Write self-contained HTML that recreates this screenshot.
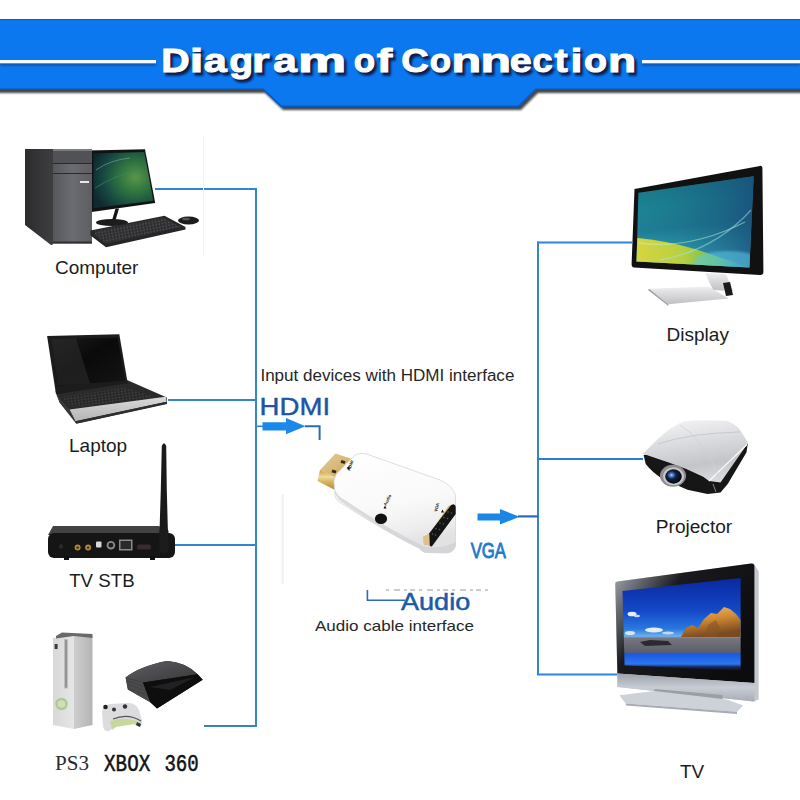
<!DOCTYPE html>
<html><head><meta charset="utf-8">
<style>
html,body{margin:0;padding:0;background:#fff;width:800px;height:800px;overflow:hidden}
svg{display:block}
text{font-family:"Liberation Sans",sans-serif}
</style></head>
<body>
<svg width="800" height="800" viewBox="0 0 800 800">
<defs>
  <filter id="blur1" x="-10%" y="-50%" width="120%" height="200%"><feGaussianBlur stdDeviation="1.2"/></filter>
  <filter id="blur2" x="-10%" y="-50%" width="120%" height="200%"><feGaussianBlur stdDeviation="0.8"/></filter>
</defs>
<rect width="800" height="800" fill="#fff"/>

<!-- ===== BANNER ===== -->
<g id="banner">
  <polygon points="-5,21 805,21 805,93 538,93 521,110 283,110 265,93 -5,93" fill="#333" filter="url(#blur1)" opacity="0.9"/>
  <polygon points="0,19 800,19 800,90 536,90 519,107 281,107 263,90 0,90" fill="#0c78f0"/>
  <polyline points="0,89.3 263.3,89.3 281.3,106.3 518.7,106.3 535.7,89.3 800,89.3" fill="none" stroke="#0a58b8" stroke-width="1.4"/>
  <rect x="0" y="19" width="800" height="1.2" fill="#0a5fc4"/>
  <rect x="0" y="63" width="156" height="2.5" fill="#0a4fa8" filter="url(#blur2)"/>
  <rect x="642" y="63" width="158" height="2.5" fill="#0a4fa8" filter="url(#blur2)"/>
  <rect x="0" y="60" width="156" height="3.3" fill="#f4fbff"/>
  <rect x="642" y="60" width="158" height="3.3" fill="#f4fbff"/>
  <g font-weight="bold" font-size="34" fill="#0a1e4a" stroke="#0a1e4a" stroke-width="1.4" filter="url(#blur2)">
    <text transform="translate(163.79,74.5) scale(1.158,1)">D</text>
    <text transform="translate(192.24,74.5) scale(1.437,1)">i</text>
    <text transform="translate(206.26,74.5) scale(1.216,1)">a</text>
    <text transform="translate(231.82,74.5) scale(1.150,1)">g</text>
    <text transform="translate(254.59,74.5) scale(1.325,1)">r</text>
    <text transform="translate(275.66,74.5) scale(1.247,1)">a</text>
    <text transform="translate(300.60,74.5) scale(1.597,1)">m</text>
    <text transform="translate(356.36,74.5) scale(1.030,1)">o</text>
    <text transform="translate(379.20,74.5) scale(1.362,1)">f</text>
    <text transform="translate(403.84,74.5) scale(1.116,1)">C</text>
    <text transform="translate(432.16,74.5) scale(1.030,1)">o</text>
    <text transform="translate(454.04,74.5) scale(1.432,1)">n</text>
    <text transform="translate(482.88,74.5) scale(1.471,1)">n</text>
    <text transform="translate(512.18,74.5) scale(1.165,1)">e</text>
    <text transform="translate(534.94,74.5) scale(1.061,1)">c</text>
    <text transform="translate(556.95,74.5) scale(1.158,1)">t</text>
    <text transform="translate(572.92,74.5) scale(1.261,1)">i</text>
    <text transform="translate(586.51,74.5) scale(1.111,1)">o</text>
    <text transform="translate(610.54,74.5) scale(1.360,1)">n</text>
  </g>
  <g font-weight="bold" font-size="34" fill="#fff" stroke="#fff" stroke-width="1">
    <text transform="translate(161.29,72) scale(1.158,1)">D</text>
    <text transform="translate(189.74,72) scale(1.437,1)">i</text>
    <text transform="translate(203.76,72) scale(1.216,1)">a</text>
    <text transform="translate(229.32,72) scale(1.150,1)">g</text>
    <text transform="translate(252.09,72) scale(1.325,1)">r</text>
    <text transform="translate(273.16,72) scale(1.247,1)">a</text>
    <text transform="translate(298.10,72) scale(1.597,1)">m</text>
    <text transform="translate(353.86,72) scale(1.030,1)">o</text>
    <text transform="translate(376.70,72) scale(1.362,1)">f</text>
    <text transform="translate(401.34,72) scale(1.116,1)">C</text>
    <text transform="translate(429.66,72) scale(1.030,1)">o</text>
    <text transform="translate(451.54,72) scale(1.432,1)">n</text>
    <text transform="translate(480.38,72) scale(1.471,1)">n</text>
    <text transform="translate(509.68,72) scale(1.165,1)">e</text>
    <text transform="translate(532.44,72) scale(1.061,1)">c</text>
    <text transform="translate(554.45,72) scale(1.158,1)">t</text>
    <text transform="translate(570.42,72) scale(1.261,1)">i</text>
    <text transform="translate(584.01,72) scale(1.111,1)">o</text>
    <text transform="translate(608.04,72) scale(1.360,1)">n</text>
  </g>
</g>

<!-- ===== CONNECTION LINES ===== -->
<g id="lines" fill="#3486c4">
  <!-- left bus -->
  <rect x="255" y="188" width="2" height="539"/>
  <rect x="155" y="188" width="102" height="2" fill="#2f86d2"/>
  <rect x="168" y="399" width="89" height="2" fill="#2f86d2"/>
  <rect x="175" y="544" width="82" height="2" fill="#2f86d2"/>
  <rect x="204" y="725" width="53" height="2" fill="#3384c0"/>
  <!-- right bus -->
  <rect x="537" y="241.5" width="2" height="433.5"/>
  <rect x="537" y="241.5" width="95" height="2" fill="#2f86d2"/>
  <rect x="537" y="458" width="106" height="2" fill="#2a7ed0"/>
  <rect x="537" y="673.5" width="80" height="2" fill="#2f86d2"/>
</g>

<rect x="203" y="137" width="1" height="118" fill="#f3f3f3"/>
<rect x="281.5" y="494" width="2.5" height="90" fill="#f2f2f2"/>
<!-- ===== COMPUTER ===== -->
<g id="computer">
  <defs>
    <linearGradient id="twrFront" x1="0" y1="0" x2="1" y2="0">
      <stop offset="0" stop-color="#56585c"/><stop offset="0.5" stop-color="#6a6c71"/><stop offset="1" stop-color="#5c5e62"/>
    </linearGradient>
    <linearGradient id="twrSide" x1="0" y1="0" x2="1" y2="0">
      <stop offset="0" stop-color="#2c2c2e"/><stop offset="1" stop-color="#3e3e41"/>
    </linearGradient>
    <radialGradient id="pcScreen" cx="0.7" cy="0.45" r="0.75">
      <stop offset="0" stop-color="#5a9448"/><stop offset="0.35" stop-color="#307540"/><stop offset="0.7" stop-color="#184a42"/><stop offset="1" stop-color="#0e2a30"/>
    </radialGradient>
  </defs>
  <!-- monitor -->
  <polygon points="88,150.6 145,149.3 155.2,203 88,212.6" fill="#121212"/>
  <polygon points="93.5,153.5 144.3,152 153.3,200.8 93.5,208.3" fill="url(#pcScreen)"/>
  <path d="M96,170 Q110,160 130,158" stroke="#7aa8a0" stroke-width="1" fill="none" opacity="0.6"/>
  <path d="M95,188 Q115,175 140,170" stroke="#3f8a6a" stroke-width="1.2" fill="none" opacity="0.5"/>
  <polygon points="115.5,208.5 119,208.5 115,222 111.5,222" fill="#151515"/>
  <ellipse cx="112" cy="222.5" rx="16" ry="3.6" fill="#1c1c1c"/>
  <!-- tower -->
  <polygon points="25,149 53,149 53,244.5 51,245 25,225" fill="url(#twrSide)"/>
  <rect x="53" y="149" width="39" height="94.5" fill="url(#twrFront)"/>
  <rect x="53" y="149" width="39" height="2" fill="#7a7c80"/>
  <rect x="53" y="151" width="39" height="12" fill="#505256"/>
  <rect x="53" y="163" width="39" height="1" fill="#2a2a2c"/>
  <rect x="53" y="173" width="39" height="1" fill="#2a2a2c"/>
  <rect x="53" y="241.5" width="39" height="2" fill="#303032"/>
  <rect x="80" y="181" width="9" height="2" fill="#e8e8e8"/>
  <!-- keyboard -->
  <defs>
    <pattern id="keys" width="3.2" height="3" patternUnits="userSpaceOnUse" patternTransform="rotate(-11)">
      <rect width="3.2" height="3" fill="#222224"/><rect x="0.4" y="0.4" width="2.3" height="2.1" fill="#4a4a4e"/>
    </pattern>
  </defs>
  <polygon points="90.5,230.4 164.5,215.8 185.5,227 185.5,229.5 106,247.3 90.5,235.5" fill="#262628"/>
  <polygon points="95,231 163,217.5 181,227 106,243.5 95,235" fill="url(#keys)"/>
  <ellipse cx="188.5" cy="220.5" rx="10.5" ry="4" fill="#1c1c1e"/>
  <ellipse cx="186" cy="219" rx="4" ry="1.3" fill="#555"/>
</g>

<!-- ===== LAPTOP ===== -->
<g id="laptop">
  <defs>
    <linearGradient id="lapScr" x1="0" y1="0" x2="1" y2="1">
      <stop offset="0" stop-color="#1c1c1c"/><stop offset="0.45" stop-color="#0a0a0a"/><stop offset="1" stop-color="#141414"/>
    </linearGradient>
    <linearGradient id="palm" x1="0" y1="0" x2="0" y2="1">
      <stop offset="0" stop-color="#dadada"/><stop offset="1" stop-color="#b4b4b4"/>
    </linearGradient>
  </defs>
  <polygon points="55.5,391 127,380 166.8,397.4 167,404 76.3,423.8 59.5,402.5" fill="#2a2a2a"/>
  <polygon points="47.1,336 119.3,334.3 127.7,383.2 56,394.2" fill="#1c1c1c"/>
  <polygon points="51,338.5 117.6,337.7 125.2,380.7 57.7,385.8" fill="url(#lapScr)"/>
  <polygon points="51.5,339 76,338.3 90,383.5 57.8,385.6" fill="#2a2a2a" opacity="0.65"/>
  <defs>
    <pattern id="lkeys" width="3.4" height="2.8" patternUnits="userSpaceOnUse" patternTransform="rotate(-8)">
      <rect width="3.4" height="2.8" fill="#1e1e1e"/><rect x="0.4" y="0.4" width="2.5" height="1.9" fill="#3e3e40"/>
    </pattern>
  </defs>
  <polygon points="61,397.2 126,387.6 159,398.3 71.5,406.8" fill="url(#lkeys)"/>
  <polygon points="69.5,409.4 165.7,396.7 166.6,401.8 75.4,421.2" fill="url(#palm)"/>
  <polygon points="75.4,421.2 166.6,401.8 166.6,403.8 76.5,423.5" fill="#2e2e2e"/>
  <polygon points="56,394.2 69.5,409.4 75.4,421.2 60,402" fill="#3a3a3a"/>
</g>

<!-- ===== TV STB ===== -->
<g id="stb">
  <polygon points="53,526 159,526 170,535 48,535" fill="#424244"/>
  <rect x="48" y="533" width="127" height="25" rx="6" fill="#151515"/>
  <rect x="64" y="556" width="5" height="4" fill="#111"/>
  <rect x="150" y="556" width="5" height="4" fill="#111"/>
  <circle cx="61" cy="546.5" r="2.2" fill="#2a2a2a"/>
  <circle cx="77.6" cy="547.6" r="3" fill="#b08a2a"/><circle cx="77.6" cy="547.6" r="1.2" fill="#2a2a2a"/>
  <circle cx="88.1" cy="547.6" r="3" fill="#b8883a"/><circle cx="88.1" cy="547.6" r="1.2" fill="#2a2a2a"/>
  <rect x="96" y="541.5" width="5.5" height="6" rx="1" fill="#d8d8d8"/>
  <circle cx="110.9" cy="545.2" r="4.3" fill="#8a8a8a"/><circle cx="110.9" cy="545.2" r="2.4" fill="#1a1a1a"/>
  <rect x="119" y="539.5" width="13.5" height="11" fill="#8a8a8a"/>
  <rect x="120.5" y="541" width="10.5" height="8" fill="#2a2a2a"/>
  <rect x="137" y="544.5" width="14" height="5" rx="2" fill="#3a2a2a"/>
  <!-- antenna -->
  <path d="M161.8,446 Q164,440.5 166.2,446 L166.8,490 L168,535 L159.4,535 L160.8,490 Z" fill="#1a1a1a"/>
  <rect x="159.5" y="528" width="9" height="25" rx="4" fill="#1c1c1c"/>
</g>

<!-- ===== XBOX / PS3 ===== -->
<g id="consoles">
  <defs>
    <linearGradient id="xbF" x1="0" y1="0" x2="1" y2="0">
      <stop offset="0" stop-color="#d8d8d8"/><stop offset="1" stop-color="#e6e6e6"/>
    </linearGradient>
    <linearGradient id="xbS" x1="0" y1="0" x2="1" y2="0">
      <stop offset="0" stop-color="#cdcdcd"/><stop offset="0.5" stop-color="#c2c2c2"/><stop offset="1" stop-color="#b4b4b4"/>
    </linearGradient>
    <linearGradient id="psTop" x1="0" y1="0" x2="1" y2="1">
      <stop offset="0" stop-color="#606064"/><stop offset="0.6" stop-color="#47474a"/><stop offset="1" stop-color="#38383a"/>
    </linearGradient>
  </defs>
  <polygon points="53,638 74,635 74,729 53,725" fill="url(#xbF)"/>
  <polygon points="74,635 92.5,637 92.5,725 74,729" fill="url(#xbS)"/>
  <polygon points="56,636 62,632.6 92.5,634 92.5,638 74,636 56,638.5" fill="#6a6a6a"/>
  <rect x="64" y="639" width="4" height="49.5" fill="#bdbdbd"/><rect x="65.2" y="640" width="1.6" height="47.5" fill="#8a8a8a"/>
  <rect x="54.6" y="644" width="3" height="5" fill="#3a3a3a"/>
  <circle cx="61.5" cy="704" r="6.2" fill="#b0c898"/>
  <circle cx="61.5" cy="704" r="3.8" fill="#cfe0b8"/>
  <!-- controller -->
  <path d="M102,712 Q103,705 110,704 L128,703 Q136,703 139,710 L142,720 Q143,726 139,727 L134,724 L116,726 L109,731 Q104,732 103,726 Z" fill="#dcdcde"/>
  <path d="M110,721 Q125,716 140,722 L139,727 L134,724 L116,727 L112,730 Z" fill="#c8d89a"/>
  <path d="M113,719 Q128,713 141,721" stroke="#555" stroke-width="1.3" fill="none"/>
  <circle cx="105.5" cy="707" r="2.3" fill="#222"/>
  <circle cx="114" cy="709.5" r="2" fill="#333"/>
  <circle cx="125" cy="706.5" r="2.2" fill="#333"/>
  <path d="M137,722 L141,724 L140,727 L136,725 Z" fill="#333"/>
  <!-- ps3 -->
  <path d="M125.6,677.6 Q140,666 167,661 Q185,662 197.6,674.2 L202.7,679.8 L157,708.5 L150.4,702.3 L127.9,689.4 Z" fill="#1a1a1a"/>
  <polygon points="125.6,677.6 143,682.6 150.4,702.3 127.9,689.4" fill="#4a4a4d"/>
  <g stroke="#3a3a3c" stroke-width="0.6"><line x1="127" y1="681" x2="145" y2="687"/><line x1="127.5" y1="684.5" x2="146.5" y2="691"/><line x1="128" y1="688" x2="148" y2="695.5"/></g>
  <path d="M125.6,677.6 Q140,666 167,661 Q185,662 197.6,674.2 L143,682.6 Z" fill="url(#psTop)"/>
  <polygon points="143,682.6 197.6,674.2 202.7,679.8 157,708.5 150.4,702.3" fill="#0e0e0e"/>
  <polygon points="150,687 195,677 170,690" fill="#2a2a2a" opacity="0.7"/>
</g>

<!-- ===== DISPLAY ===== -->
<g id="display">
  <defs>
    <linearGradient id="vista" x1="0" y1="0" x2="0.15" y2="1">
      <stop offset="0" stop-color="#1a6f88"/><stop offset="0.35" stop-color="#1c8494"/><stop offset="0.6" stop-color="#1f7e96"/><stop offset="0.8" stop-color="#2ea0b0"/><stop offset="1" stop-color="#48b8d0"/>
    </linearGradient>
    <linearGradient id="vistaR" x1="0" y1="0" x2="1" y2="0">
      <stop offset="0" stop-color="#1a6a80" stop-opacity="0"/><stop offset="1" stop-color="#184a78" stop-opacity="0.8"/>
    </linearGradient>
    <linearGradient id="vistaY" x1="0" y1="0" x2="1" y2="0">
      <stop offset="0" stop-color="#d8d440"/><stop offset="0.4" stop-color="#b8d040"/><stop offset="0.7" stop-color="#70c050"/><stop offset="1" stop-color="#40b0a0" stop-opacity="0"/>
    </linearGradient>
    <linearGradient id="stand" x1="0" y1="0" x2="0" y2="1">
      <stop offset="0" stop-color="#eeeef0"/><stop offset="1" stop-color="#c0c0c4"/>
    </linearGradient>
  </defs>
  <path d="M634.5,188.9 L760,165.9 Q762.4,165.6 762.4,168 L763.4,272 Q763.4,275.1 760,275 L634,267.6 Q631.6,267.4 631.6,264 Z" fill="#111"/>
  <polygon points="638.4,192.8 753.7,176.3 749.4,267.4 636.5,261.6" fill="url(#vista)"/>
  <polygon points="638.4,192.8 753.7,176.3 749.4,267.4 636.5,261.6" fill="url(#vistaR)"/>
  <path d="M637.3,238 Q668,241 695,249 Q722,258 749.4,267.4 L636.5,261.6 Z" fill="url(#vistaY)"/>
  <clipPath id="dispClip"><polygon points="638.4,192.8 753.7,176.3 749.4,267.4 636.5,261.6"/></clipPath>
  <g clip-path="url(#dispClip)"><ellipse cx="728" cy="262" rx="34" ry="11" fill="#5cc8e8" opacity="0.55" filter="url(#blur1)"/></g>
  <path d="M638,243 Q690,250 745,222" stroke="#c8f0d8" stroke-width="1.4" fill="none" opacity="0.5"/>
  <path d="M660,260 Q715,250 751,210" stroke="#a0e8f0" stroke-width="1.3" fill="none" opacity="0.5"/>
  <polygon points="705,273 726,274 733,291 713,290" fill="url(#stand)"/>
  <polygon points="723,283 730,282 733,295 726,296" fill="#1a1a1a"/>
  <polygon points="649,288.7 709,286.8 728.5,298.4 668.4,304.2" fill="url(#stand)"/>
  <polygon points="649,288.7 668.4,304.2 668.4,306 648,290" fill="#a0a0a4"/>
</g>

<!-- ===== PROJECTOR ===== -->
<g id="projector">
  <defs>
    <linearGradient id="projTop" x1="0.2" y1="0" x2="0.45" y2="1">
      <stop offset="0" stop-color="#f4f4f6"/><stop offset="0.4" stop-color="#dadbde"/><stop offset="0.75" stop-color="#c4c5c9"/><stop offset="1" stop-color="#d8d9dc"/>
    </linearGradient>
    <radialGradient id="lensG" cx="0.38" cy="0.4" r="0.62">
      <stop offset="0" stop-color="#c0dcff"/><stop offset="0.18" stop-color="#4a7ac8"/><stop offset="0.45" stop-color="#122040"/><stop offset="1" stop-color="#04060c"/>
    </radialGradient>
  </defs>
  <path d="M643.6,455 L645.7,464 Q652,472 661.6,478.3 L687.4,489.8 L707.6,494 L720.5,492.6 L727.7,484 L746.4,452.4 L747.8,443.8 Z" fill="#161616"/>
  <path d="M642.9,453.8 L657.2,439.4 Q672,426 683.1,421.5 Q700,419.5 726.2,420.8 Q736,424 740.6,430.8 L747.8,442.3 L747,444.5 L720.5,482.6 L709,481 L703.2,476.8 Q686,468 668.7,462.4 Z" fill="url(#projTop)"/>
  <path d="M709,481 L747,444.5" stroke="#fafafa" stroke-width="1.2"/>
  <path d="M658,444 Q690,433 740,432" stroke="#c4c6ca" stroke-width="0.9" fill="none"/>
  <path d="M680,425 Q705,440 720,480" stroke="#cfd0d4" stroke-width="0.8" fill="none"/>
  <path d="M713,484 L716,492" stroke="#888" stroke-width="1"/>
  <ellipse cx="673" cy="475.8" rx="13" ry="11" fill="#8e8e92"/>
  <ellipse cx="673.5" cy="476.3" rx="10.5" ry="9" fill="#c8c8cc"/>
  <ellipse cx="673.5" cy="476.5" rx="8.3" ry="7.2" fill="url(#lensG)"/>
</g>

<!-- ===== TV ===== -->
<g id="tv">
  <defs>
    <linearGradient id="sky" x1="0" y1="0" x2="0" y2="1">
      <stop offset="0" stop-color="#0a28a0"/><stop offset="0.35" stop-color="#1448c8"/><stop offset="0.55" stop-color="#2a78e0"/><stop offset="0.63" stop-color="#70b0f0"/><stop offset="0.65" stop-color="#767680"/><stop offset="0.8" stop-color="#5e5e68"/><stop offset="0.82" stop-color="#1a58e0"/><stop offset="0.93" stop-color="#2a78f0"/><stop offset="0.96" stop-color="#1a2a60"/><stop offset="1" stop-color="#101020"/>
    </linearGradient>
    <linearGradient id="tvPanel" x1="0" y1="0" x2="0" y2="1">
      <stop offset="0" stop-color="#9da1aa"/><stop offset="0.5" stop-color="#c8ccd4"/><stop offset="1" stop-color="#a8acb4"/>
    </linearGradient>
    <linearGradient id="tvBezel" x1="0" y1="0" x2="1" y2="0.6">
      <stop offset="0" stop-color="#b0b4ba"/><stop offset="0.18" stop-color="#6a6e74"/><stop offset="0.4" stop-color="#1a1a1e"/><stop offset="1" stop-color="#0c0c0e"/>
    </linearGradient>
    <linearGradient id="rock" x1="0" y1="0" x2="0.3" y2="1">
      <stop offset="0" stop-color="#f0c060"/><stop offset="0.5" stop-color="#d08a34"/><stop offset="1" stop-color="#7a4a20"/>
    </linearGradient>
  </defs>
  <polygon points="615.3,581.8 753.5,563.3 758.7,571.5 758.7,699.4 753.5,701.5 617.4,687" fill="#c4c8ce"/>
  <path d="M615.3,584 Q615.3,581.8 618,581.5 L751,563.5 Q754.4,563.3 754.4,566 L754.4,683 L617.4,673.6 Z" fill="url(#tvBezel)"/>
  <polygon points="617.4,673.6 754.4,683 754.4,701.5 617.4,687" fill="url(#tvPanel)"/>
  <polygon points="622.5,591 740.6,578 740.6,670.5 624.6,665.4" fill="url(#sky)"/>
  <ellipse cx="632" cy="614" rx="4.5" ry="2.3" fill="#e8eef8"/>
  <ellipse cx="637" cy="616" rx="3" ry="1.3" fill="#c8daf4"/>
  <ellipse cx="654" cy="630" rx="9" ry="2.6" fill="#e4ecf6"/>
  <ellipse cx="630" cy="633" rx="5" ry="2" fill="#d8e4f4"/>
  <ellipse cx="668" cy="633" rx="6" ry="1.5" fill="#c8d8f0"/>
  <path d="M681,637 L686,628 L692,625 L698,628 L704,619 L711,613 L717,614 L724,607 L730,609 L736,614 L740.6,620 L740.6,637 Z" fill="url(#rock)"/>
  <path d="M704,637 L708,625 L716,620 L720,628 L716,637 Z" fill="#8a5426" opacity="0.6"/>
  <path d="M640,642 L650,640 L668,641 L672,645 L645,646 Z" fill="#2a2a30"/>
  <polygon points="654.5,689 722.6,695 722.6,703.5 654.5,697" fill="#9a9ea6"/>
  <polygon points="619.4,695.3 654.5,691 726.7,699.4 743.2,705.6 737,711.8 625.6,703.5" fill="#cdd1d8"/>
  <polygon points="625.6,703.5 737,711.8 737,714 626,705.5" fill="#a8acb4"/>
</g>

<!-- ===== LABELS ===== -->
<g fill="#1c1c1c" font-size="19">
  <text x="55" y="274">Computer</text>
  <text x="69" y="452.4" font-size="19">Laptop</text>
  <text x="69.2" y="587" font-size="18.7">TV STB</text>
  <text x="666.6" y="340.8" font-size="19">Display</text>
  <text x="655.8" y="532.7" font-size="19.1">Projector</text>
  <text x="680" y="778" font-size="19">TV</text>
  <text x="55" y="769.5" font-size="21.5" style="font-family:'Liberation Serif',serif" fill="#2a2a2a" textLength="34" lengthAdjust="spacingAndGlyphs">PS3</text>
  <text x="104.1" y="770.7" font-size="24" style="font-family:'Liberation Mono',monospace" fill="#141414" stroke="#141414" stroke-width="0.55" textLength="46.1" lengthAdjust="spacingAndGlyphs">XBOX</text>
  <text x="164.4" y="770.7" font-size="24" style="font-family:'Liberation Mono',monospace" fill="#141414" stroke="#141414" stroke-width="0.55" textLength="34.4" lengthAdjust="spacingAndGlyphs">360</text>
</g>

<!-- ===== MIDDLE ===== -->
<g id="middle">
  <text x="260.4" y="381.4" font-size="16" fill="#262626" textLength="254" lengthAdjust="spacingAndGlyphs">Input devices with HDMI interface</text>
  <text x="259.6" y="414.6" font-size="23.7" fill="#1a56a2" stroke="#1a56a2" stroke-width="0.4" textLength="70.5" lengthAdjust="spacingAndGlyphs">HDMI</text>
  <!-- HDMI arrow -->
  <rect x="257" y="425.5" width="6" height="1.6" fill="#2f86d2"/>
  <polygon points="262.5,422.2 286,422.2 286,418.1 305.5,426.3 286,434.3 286,430.4 262.5,430.4" fill="#1b88ea"/>
  <polyline points="305,426.3 319.6,426.3 319.6,440" fill="none" stroke="#2a6cb5" stroke-width="2"/>
  <!-- VGA arrow -->
  <polygon points="477.5,513.4 500,513.4 500,509 519.5,516.8 500,524.6 500,520.4 477.5,520.4" fill="#1b86e6"/>
  <rect x="518" y="515.3" width="20" height="2.2" fill="#2a6cb5"/>
  <text x="470.7" y="558" font-size="22.3" fill="#1c7acc" stroke="#1c7acc" stroke-width="0.9" textLength="35.3" lengthAdjust="spacingAndGlyphs">VGA</text>
  <!-- Audio -->
  <polyline points="367.4,590 367.4,600.2 405,600.2" fill="none" stroke="#2a6cb5" stroke-width="1.6"/>
  <line x1="386" y1="590" x2="490" y2="590" stroke="#9a9a9a" stroke-width="1.1" stroke-dasharray="3,5,6,4,3,3,5,4"/>
  <text x="401" y="609.7" font-size="24" fill="#1b5aa6" stroke="#1b5aa6" stroke-width="0.5" textLength="69.2" lengthAdjust="spacingAndGlyphs">Audio</text>
  <text x="315" y="630.6" font-size="15" fill="#262626" textLength="159" lengthAdjust="spacingAndGlyphs">Audio cable interface</text>
</g>

<!-- ===== ADAPTER ===== -->
<g id="adapter">
  <defs>
    <linearGradient id="gold1" x1="0" y1="0" x2="1" y2="1">
      <stop offset="0" stop-color="#e6cf96"/><stop offset="1" stop-color="#c9a45a"/>
    </linearGradient>
    <linearGradient id="gold2" x1="0" y1="0" x2="0" y2="1">
      <stop offset="0" stop-color="#c99a3c"/><stop offset="0.35" stop-color="#f0dc9a"/><stop offset="0.6" stop-color="#d8b460"/><stop offset="1" stop-color="#b88a30"/>
    </linearGradient>
    <linearGradient id="body" x1="0" y1="0" x2="0.25" y2="1">
      <stop offset="0" stop-color="#ffffff"/><stop offset="0.6" stop-color="#f9f9f9"/><stop offset="0.85" stop-color="#eeeeef"/><stop offset="1" stop-color="#e2e2e4"/>
    </linearGradient>
  </defs>
  <!-- soft shadow -->
  <!-- gold plug -->
  <polygon points="335.5,453.5 352,459 352,462 336.5,478 320,470" fill="url(#gold1)"/>
  <polygon points="320,470 336.5,478 334,489.5 317.5,481" fill="url(#gold2)"/>
  <polygon points="341.5,460 345.5,461.2 344.5,464 340.5,462.8" fill="#3a2a10"/>
  <polygon points="332.5,469.5 336.5,470.7 335.5,473.5 331.5,472.3" fill="#3a2a10"/>
  <!-- body -->
  <path d="M354,456 Q358,452.5 366,453.8 L440,480 Q452,485 455.5,495 L455.5,546 Q454,552 447,553 L425,552.5 Q421,551 419.5,548.5 Q386,532 342.5,504 Q335,500 335,495 L334,482 Q334,478 336.5,474 Z" fill="url(#body)" stroke="#d6d6d8" stroke-width="0.8"/>
  <path d="M335,493 Q337,499 343,503 Q386,532 419.5,548.5 Q422,551.5 426,552.5 L447,553 Q454,552 455.5,546 L455.5,542 Q442,549.5 424,546.5 Q386,528 345,500 Q338,497 335,490 Z" fill="#d0d0d3" opacity="0.75"/>
  <!-- VGA port -->
  <polygon points="448.5,506 451.5,504.8 429.5,534 423.5,536.5 423.8,544.5 430,545.5 429.5,533.5" fill="#d8b070"/>
  <polygon points="423.2,536.8 429.5,533.3 430.2,545.6 424,544.8" fill="#e0c08a"/>
  <path d="M451.2,504.9 L453.5,504.2 Q455.7,504.8 455.7,507 L455.7,514 L432,546.3 Q430.5,546.8 429.8,545.5 L429.3,533.2 Z" fill="#141414"/>
  <g fill="#5a5a5a">
    <circle cx="448" cy="512" r="0.8"/><circle cx="444" cy="517.5" r="0.8"/><circle cx="440" cy="523" r="0.8"/><circle cx="436" cy="528.5" r="0.8"/><circle cx="432.5" cy="534" r="0.8"/>
    <circle cx="451.5" cy="513" r="0.8"/><circle cx="447.5" cy="518.5" r="0.8"/><circle cx="443.5" cy="524" r="0.8"/><circle cx="439.5" cy="529.5" r="0.8"/><circle cx="435.5" cy="535" r="0.8"/>
  </g>
  <!-- audio jack -->
  <ellipse cx="381" cy="518.8" rx="6.1" ry="5.3" fill="#121212"/>
  <!-- tiny labels -->
  <g font-size="4.2" fill="#222" font-weight="bold">
    <text transform="translate(350,471) rotate(-70)">HDMI</text>
    <text transform="translate(386,506) rotate(-62)">Audio</text>
    <text transform="translate(437,512) rotate(-75)">VGA</text>
  </g>
  <g fill="#111">
    <polygon points="346.5,468 349.5,466 349.5,470"/>
    <polygon points="383.5,508.5 386.5,508.5 385,505.5"/>
    <polygon points="441,512.5 444,512.5 442.5,509.5"/>
  </g>
</g>

</svg>
</body></html>
